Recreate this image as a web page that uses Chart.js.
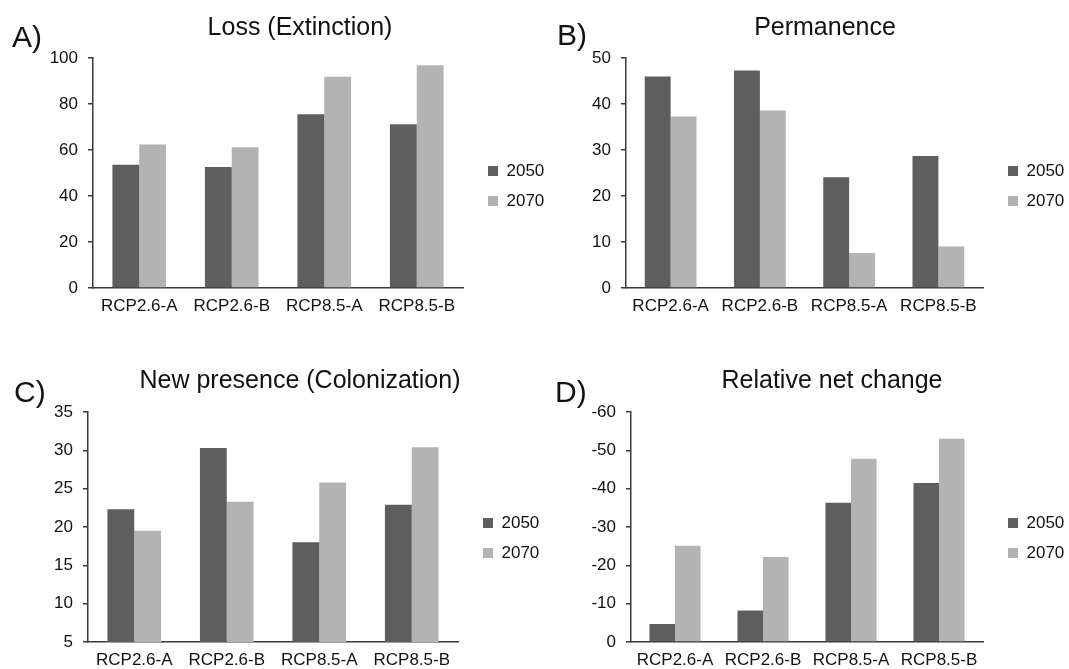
<!DOCTYPE html>
<html>
<head>
<meta charset="utf-8">
<script src="https://cdn.jsdelivr.net/npm/chart.js@4.4.1/dist/chart.umd.min.js"></script>
<style>
html, body { margin: 0; padding: 0; background: #fff; overflow: hidden; }
#wrap { position: relative; width: 1069px; height: 669px; overflow: hidden; }
.panel { position: absolute; }
.tag { position: absolute; font: 30px 'Liberation Sans', Arial, sans-serif; line-height: 30px; color: #111; }
</style>
</head>
<body>
<div id="wrap">
  <div class="panel" style="left:0;top:0"><canvas id="chartA" width="545" height="331"></canvas></div>
  <div class="panel" style="left:530px;top:0"><canvas id="chartB" width="539" height="331"></canvas></div>
  <div class="panel" style="left:0;top:354px"><canvas id="chartC" width="545" height="327"></canvas></div>
  <div class="panel" style="left:530px;top:354px"><canvas id="chartD" width="539" height="327"></canvas></div>
  <div class="tag" style="left:12px;top:22px">A)</div>
  <div class="tag" style="left:557px;top:20px">B)</div>
  <div class="tag" style="left:14px;top:377px">C)</div>
  <div class="tag" style="left:555px;top:377px">D)</div>
</div>
<script>
// data
var categories = ['RCP2.6-A', 'RCP2.6-B', 'RCP8.5-A', 'RCP8.5-B'];
var seriesNames = ['2050', '2070'];

var loss2050 = [53.6, 52.6, 75.5, 71.2];
var loss2070 = [62.4, 61.2, 91.8, 96.9];
var perm2050 = [46.0, 47.3, 24.1, 28.7];
var perm2070 = [37.3, 38.6, 7.6, 9.0];
var colon2050 = [22.3, 30.3, 18.0, 22.9];
var colon2070 = [19.5, 23.3, 25.8, 30.4];
var net2050 = [-4.7, -8.2, -36.3, -41.5];
var net2070 = [-25.1, -22.2, -47.8, -53.0];

// y axes: [min, max, step]
var lossAxis = [0, 100, 20];
var permAxis = [0, 50, 10];
var colonAxis = [5, 35, 5];
var netAxis = [-60, 0, 10];

var dark = '#5e5e5e';
var light = '#b3b3b3';
var txt = '#111';
var axisColor = '#3a3a3a';

Chart.defaults.font.family = "'Liberation Sans', Arial, sans-serif";

// Excel puts the legend further from the plot and centres the title on its own
var nudge = {
  id: 'nudge',
  afterLayout: function (chart, args, opts) {
    var lg = chart.legend;
    if (lg) {
      lg.left += opts.dx; lg.right += opts.dx;
      lg.top += opts.dy; lg.bottom += opts.dy;
    }
    var t = chart.titleBlock;
    if (t) {
      var shift = opts.titleX - (t.left + t.right) / 2;
      t.left += shift; t.right += shift;
    }
  }
};

function makeChart(id, title, d2050, d2070, axis, reverse, box) {
  var yW = 45, legendW = 70;
  var canvas = document.getElementById(id);
  var padLeft = box.axisX - yW;
  var padRight = canvas.width - box.plotRight - legendW;
  return new Chart(canvas, {
    type: 'bar',
    data: {
      labels: categories,
      datasets: [
        { label: seriesNames[0], data: d2050, backgroundColor: dark },
        { label: seriesNames[1], data: d2070, backgroundColor: light }
      ]
    },
    plugins: [nudge],
    options: {
      responsive: false,
      animation: false,
      datasets: { bar: { categoryPercentage: 0.58, barPercentage: 1 } },
      layout: { padding: { left: padLeft, right: padRight, top: 0, bottom: box.bottom } },
      scales: {
        x: {
          grid: { display: true, drawOnChartArea: false, drawTicks: false },
          border: { color: axisColor, width: 1.5 },
          ticks: { color: txt, font: { size: 17 }, padding: 8, maxRotation: 0, autoSkip: false }
        },
        y: {
          min: axis[0], max: axis[1], reverse: reverse,
          ticks: { stepSize: axis[2], color: txt, font: { size: 17 }, padding: 10 },
          grid: { drawOnChartArea: false, drawTicks: true, tickLength: 5, color: axisColor, tickColor: axisColor, lineWidth: 1.5 },
          border: { color: axisColor, width: 1.5 },
          afterFit: function (s) { s.width = yW; }
        }
      },
      plugins: {
        title: {
          display: true, text: title, color: txt,
          font: { size: 25, weight: 'normal' },
          padding: { top: box.titleTop, bottom: 58 - 30 - box.titleTop }
        },
        legend: {
          position: 'right', fullSize: false, maxWidth: legendW,
          labels: { boxWidth: 10, boxHeight: 10, padding: 13, color: txt, font: { size: 17 } }
        },
        tooltip: { enabled: false },
        nudge: { dx: 12, dy: box.legendDy, titleX: box.titleX }
      }
    }
  });
}

makeChart('chartA', 'Loss (Extinction)', loss2050, loss2070, lossAxis, false,
  { axisX: 93, plotRight: 463, titleX: 300, titleTop: 13, legendDy: 13, bottom: 6.6 });
makeChart('chartB', 'Permanence', perm2050, perm2070, permAxis, false,
  { axisX: 96, plotRight: 453, titleX: 295, titleTop: 13, legendDy: 13, bottom: 6.6 });
makeChart('chartC', 'New presence (Colonization)', colon2050, colon2070, colonAxis, false,
  { axisX: 88, plotRight: 458, titleX: 300, titleTop: 12, legendDy: 11, bottom: 2.6 });
makeChart('chartD', 'Relative net change', net2050, net2070, netAxis, true,
  { axisX: 101, plotRight: 453, titleX: 302, titleTop: 12, legendDy: 11, bottom: 2.6 });
</script>
</body>
</html>
